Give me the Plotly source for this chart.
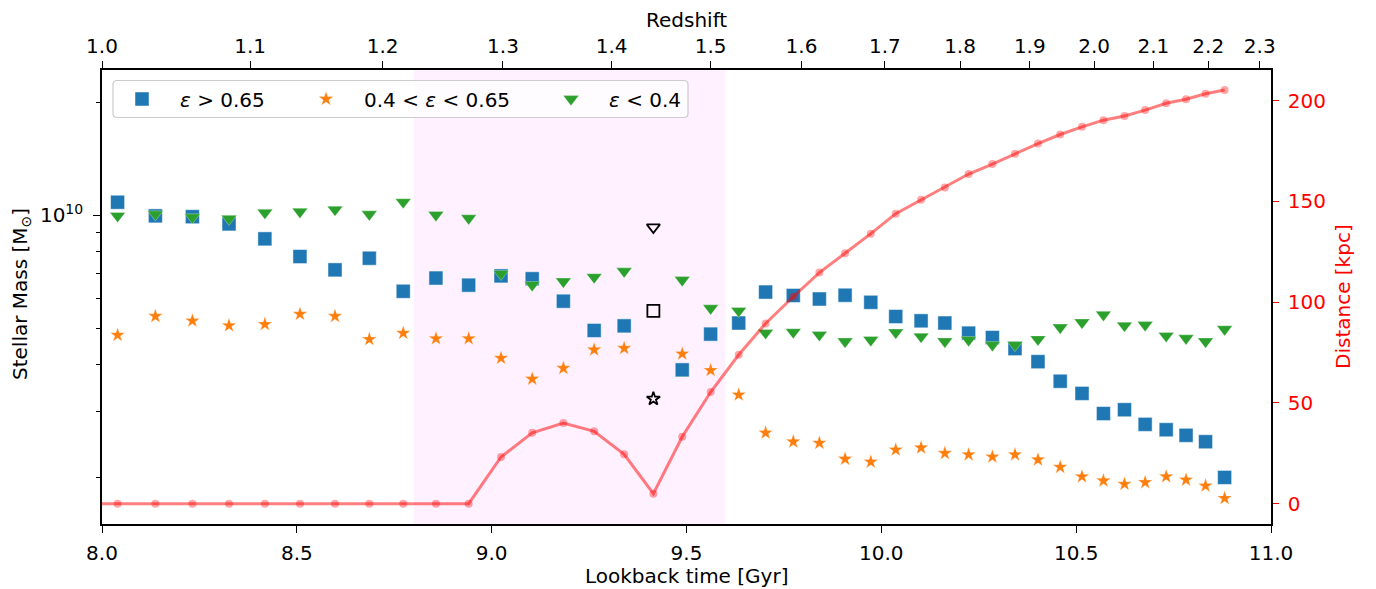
import plotly.graph_objects as go

# ---------------- data ----------------
lookback_time = [8.040, 8.137, 8.232, 8.326, 8.418, 8.508, 8.598, 8.686, 8.773, 8.857,
                 8.941, 9.024, 9.104, 9.184, 9.263, 9.340, 9.415, 9.489, 9.562, 9.634,
                 9.703, 9.774, 9.841, 9.907, 9.973, 10.037, 10.102, 10.163, 10.224, 10.285,
                 10.343, 10.402, 10.459, 10.515, 10.570, 10.624, 10.677, 10.731, 10.782, 10.832,
                 10.881]

# stellar mass in units of 1e10 Msun (None where the hollow marker is drawn instead)
mass_high = [1.083, 0.996, 0.991, 0.948, 0.865, 0.776, 0.715, 0.768, 0.627, 0.680,
             0.651, 0.689, 0.677, 0.590, 0.493, 0.507, None, 0.387, 0.482, 0.516,
             0.624, 0.611, 0.598, 0.612, 0.586, 0.537, 0.523, 0.516, 0.485, 0.472,
             0.441, 0.407, 0.361, 0.335, 0.296, 0.303, 0.277, 0.268, 0.259, 0.249,
             0.200]
mass_mid = [0.479, 0.538, 0.523, 0.508, 0.512, 0.545, 0.538, 0.467, 0.485, 0.469,
            0.469, 0.416, 0.366, 0.391, 0.438, 0.442, None, 0.427, 0.386, 0.332,
            0.263, 0.249, 0.247, 0.224, 0.220, 0.237, 0.240, 0.232, 0.230, 0.227,
            0.230, 0.223, 0.213, 0.201, 0.196, 0.192, 0.194, 0.201, 0.197, 0.190,
            0.176]
mass_low = [0.996, 1.006, 0.988, 0.979, 1.016, 1.022, 1.035, 1.006, 1.084, 1.002,
            0.982, 0.698, 0.652, 0.666, 0.684, 0.709, None, 0.672, 0.565, 0.556,
            0.486, 0.488, 0.480, 0.461, 0.465, 0.487, 0.475, 0.461, 0.465, 0.451,
            0.451, 0.467, 0.502, 0.518, 0.543, 0.508, 0.510, 0.477, 0.470, 0.461,
            0.497]

# hollow (black) markers at the snapshot where the classes are undefined
hollow_time = 9.415
hollow_high = 0.556
hollow_mid = 0.324
hollow_low = 0.929

distance_kpc = [0, 0, 0, 0, 0, 0, 0, 0, 0, 0,
                0, 23.2, 35.2, 40.0, 35.9, 24.5, 5.0, 33.2, 55.4, 73.9,
                89.4, 102.7, 114.7, 124.3, 134.0, 143.9, 150.8, 156.9, 163.6, 168.5,
                173.7, 178.7, 183.2, 187.0, 190.3, 192.4, 195.3, 198.7, 200.7, 203.4,
                205.3]
prior_time = 7.942      # earlier snapshot, outside the plotted range
prior_distance = 0.0

shade_start, shade_end = 8.8, 9.6

bottom_ticks = [8.0, 8.5, 9.0, 9.5, 10.0, 10.5, 11.0]
redshift_labels = ["1.0", "1.1", "1.2", "1.3", "1.4", "1.5", "1.6", "1.7",
                   "1.8", "1.9", "2.0", "2.1", "2.2", "2.3"]
redshift_tick_time = [8.000, 8.380, 8.720, 9.029, 9.308, 9.562, 9.795, 10.009,
                      10.202, 10.381, 10.546, 10.698, 10.839, 10.971]
distance_ticks = [0, 50, 100, 150, 200]
mass_minor_ticks = [2e9, 3e9, 4e9, 5e9, 6e9, 7e9, 8e9, 9e9, 2e10]

series_names = ["<i>ε</i> > 0.65", "0.4 < <i>ε</i> < 0.65", "<i>ε</i> < 0.4"]

# ---------------- figure ----------------
PAGE = 8                     # default body margin of the html page
W, H = 1376 - PAGE, 589 - PAGE
L, R, T, B = 94, 105, 62, 65
pw, ph = W - L - R, H - T - B

FONT = "DejaVu Sans"
FS = 20
BLUE, ORANGE, GREEN = "#1f77b4", "#ff7f0e", "#2ca02c"


def scale(vals):
    return [None if v is None else v * 1e10 for v in vals]


def px_x(p):
    """window pixel -> paper x"""
    return (p - PAGE - L) / pw


def px_y(p):
    """window pixel -> paper y"""
    return (H - B - (p - PAGE)) / ph


fig = go.Figure()

fig.add_trace(go.Scatter(
    x=[prior_time] + lookback_time, y=[prior_distance] + distance_kpc,
    xaxis="x", yaxis="y2", mode="lines+markers", showlegend=False,
    line=dict(color="rgba(255,0,0,0.5)", width=3),
    marker=dict(symbol="circle", size=8, color="rgba(255,0,0,0.35)",
                line=dict(width=0)),
))

fig.add_trace(go.Scatter(
    x=lookback_time, y=scale(mass_high), mode="markers", name=series_names[0],
    legend="legend",
    marker=dict(symbol="square", size=14, color=BLUE,
                line=dict(color="rgba(255,255,255,0.6)", width=0.8)),
))
fig.add_trace(go.Scatter(
    x=lookback_time, y=scale(mass_mid), mode="markers", name=series_names[1],
    legend="legend2",
    marker=dict(symbol="star", size=11, color=ORANGE,
                line=dict(color="rgba(255,255,255,0.6)", width=0.5)),
))
fig.add_trace(go.Scatter(
    x=lookback_time, y=scale(mass_low), mode="markers", name=series_names[2],
    legend="legend3",
    marker=dict(symbol="triangle-down", size=13.5, color=GREEN,
                line=dict(color="rgba(255,255,255,0.6)", width=0.5)),
))

for sym, val, sz in [("square-open", hollow_high, 12),
                     ("star-open", hollow_mid, 10),
                     ("triangle-down-open", hollow_low, 11.5)]:
    fig.add_trace(go.Scatter(
        x=[hollow_time], y=[val * 1e10], mode="markers", showlegend=False,
        marker=dict(symbol=sym, size=sz, color="black", line=dict(width=1.8, color="black")),
    ))

# dummy for the top axis
fig.add_trace(go.Scatter(x=[None], y=[None], xaxis="x2", yaxis="y", showlegend=False,
                         hoverinfo="skip"))

fig.add_vrect(x0=shade_start, x1=shade_end, fillcolor="rgba(255,0,255,0.055)",
              line_width=0, layer="below")

axis_common = dict(showline=True, linecolor="black", linewidth=1.6, ticks="outside",
                   ticklen=7, tickwidth=1.4, tickcolor="black", showgrid=False,
                   zeroline=False, automargin=False,
                   tickfont=dict(family=FONT, size=FS, color="black"))

fig.update_layout(
    width=W, height=H, margin=dict(l=L, r=R, t=T, b=B, autoexpand=False),
    paper_bgcolor="white", plot_bgcolor="white",
    font=dict(family=FONT, size=FS, color="black"),
    xaxis=dict(range=[8, 11], tickvals=bottom_ticks, ticklabelstandoff=3,
               ticktext=[f"{v:.1f}" for v in bottom_ticks], **axis_common),
    xaxis2=dict(range=[8, 11], overlaying="x", side="top", anchor="y",
                tickvals=redshift_tick_time, ticktext=redshift_labels, **axis_common),
    yaxis=dict(type="log", range=[9.1769, 10.3871], tickvals=[1e10],
               ticktext=["10<sup>10</sup>"], ticklabelstandoff=6,
               minor=dict(tickvals=mass_minor_ticks, ticklen=4, tickwidth=1.2,
                          tickcolor="black", ticks="outside", showgrid=False),
               **axis_common),
    yaxis2=dict(range=[-10.07, 215.2], overlaying="y", side="right", anchor="x",
                tickvals=distance_ticks, ticktext=[str(v) for v in distance_ticks],
                showline=True, linecolor="black", linewidth=1.6, ticks="outside",
                ticklen=6, tickwidth=1.4, tickcolor="red", showgrid=False, zeroline=False,
                automargin=False, ticklabelstandoff=5,
                tickfont=dict(family=FONT, size=FS, color="red")),
)

# axis titles
title_common = dict(xref="paper", yref="paper", showarrow=False, borderpad=0,
                    font=dict(family=FONT, size=FS, color="black"))
fig.add_annotation(text="Lookback time [Gyr]", x=px_x(686), y=px_y(576),
                   xanchor="center", yanchor="middle", **title_common)
fig.add_annotation(text="Redshift", x=px_x(686), y=px_y(20),
                   xanchor="center", yanchor="middle", **title_common)
fig.add_annotation(text="Stellar Mass [M<sub>⊙</sub>]", x=px_x(21), y=px_y(294),
                   xanchor="center", yanchor="middle", textangle=-90, **title_common)
fig.add_annotation(text="Distance [kpc]", x=px_x(1343), y=px_y(297),
                   xanchor="center", yanchor="middle", textangle=-90,
                   xref="paper", yref="paper", showarrow=False, borderpad=0,
                   font=dict(family=FONT, size=FS, color="red"))

# legends: symbol sits at itemwidth/2 + 5, text starts at itemwidth + 10
ITEMW = 66
legend_y = px_y(99)
common_leg = dict(orientation="h", yanchor="middle", xanchor="left", bgcolor="rgba(0,0,0,0)",
                  borderwidth=0, itemwidth=ITEMW, font=dict(family=FONT, size=FS, color="black"))
sym_off = ITEMW / 2 + 5
fig.update_layout(
    legend=dict(x=px_x(142 - sym_off), y=legend_y, **common_leg),
    legend2=dict(x=px_x(326 - sym_off), y=legend_y, **common_leg),
    legend3=dict(x=px_x(571 - sym_off), y=legend_y, **common_leg),
)

# legend frame (rounded box)
x0, x1 = px_x(113), px_x(688)
y0, y1 = px_y(117.5), px_y(80.5)
rx, ry = 4 / pw, 4 / ph
path = (f"M {x0+rx},{y0} L {x1-rx},{y0} Q {x1},{y0} {x1},{y0+ry} "
        f"L {x1},{y1-ry} Q {x1},{y1} {x1-rx},{y1} L {x0+rx},{y1} "
        f"Q {x0},{y1} {x0},{y1-ry} L {x0},{y0+ry} Q {x0},{y0} {x0+rx},{y0} Z")
fig.add_shape(type="path", path=path, xref="paper", yref="paper",
              fillcolor="rgba(255,255,255,0.8)", line=dict(color="#cccccc", width=1.2),
              layer="above")

fig.write_html("out.html")
